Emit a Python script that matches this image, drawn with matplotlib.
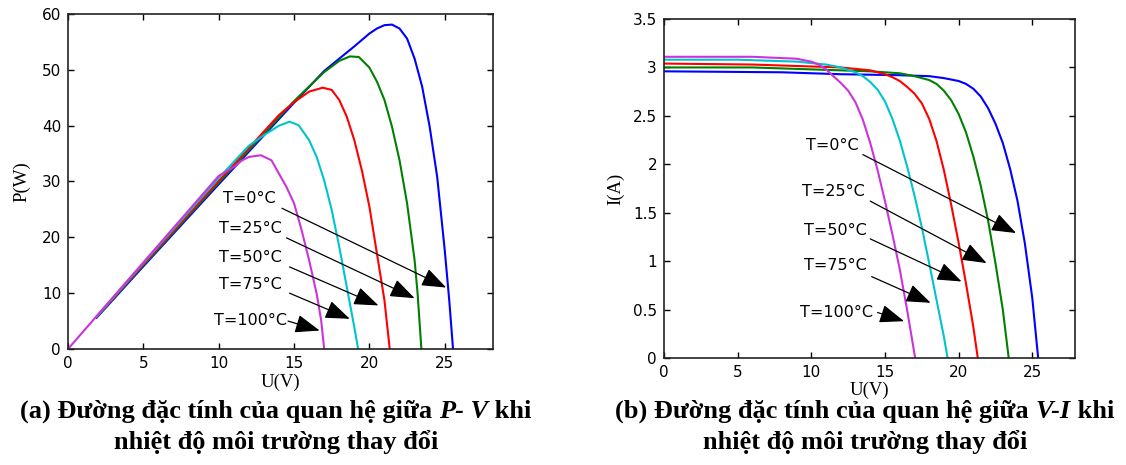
import matplotlib
matplotlib.use("Agg")
import matplotlib.pyplot as plt

# Data
############################################################################
labels = ["T=0°C", "T=25°C", "T=50°C", "T=75°C", "T=100°C"]
colors = ["#0000ff", "#008000", "#ff0000", "#00c4cc", "#cc33dd"]

# P-V curves
u_p_t0 = [1.9, 5, 10, 15, 17, 19, 20, 20.5, 21, 21.5, 22, 22.5, 23, 23.5, 24, 24.5, 25, 25.3, 25.55]
p_t0 = [5.6, 14.8, 29.5, 44.1, 49.8, 54.2, 56.5, 57.4, 58.0, 58.1, 57.4, 55.6, 52.0, 47.0, 39.8, 30.8, 17.7, 8.7, 0.0]
u_p_t25 = [1.9, 5, 10, 15, 17, 18, 18.7, 19.3, 20, 20.5, 21, 21.5, 22, 22.5, 23, 23.2, 23.45]
p_t25 = [5.7, 15.0, 29.8, 44.4, 49.6, 51.6, 52.4, 52.3, 50.4, 47.9, 44.6, 39.8, 33.8, 26.1, 15.9, 9.9, 0.0]
u_p_t50 = [1.9, 5, 10, 14, 15, 16, 16.9, 17.5, 18, 18.5, 19, 19.5, 20, 20.5, 21, 21.35]
p_t50 = [5.8, 15.2, 30.1, 41.9, 44.2, 46.1, 46.8, 46.4, 44.6, 41.6, 37.4, 32.0, 25.5, 17.1, 8.7, 0.0]
u_p_t75 = [1.9, 5, 10, 12, 13, 14, 14.7, 15.3, 16, 16.5, 17, 17.5, 18, 18.5, 19, 19.25]
p_t75 = [5.8, 15.4, 30.6, 36.4, 38.3, 40.0, 40.7, 40.1, 37.4, 34.4, 30.2, 24.9, 18.3, 11.1, 3.9, 0.0]
u_p_t100 = [0, 5, 10, 11, 11.5, 12, 12.8, 13.5, 14, 14.5, 15, 15.5, 16, 16.5, 16.8, 17.0]
p_t100 = [0, 15.5, 31.0, 32.6, 33.7, 34.4, 34.7, 33.8, 31.4, 29.0, 26.1, 21.3, 15.9, 9.9, 5.1, 0.0]

# V-I curves
u_i_t0 = [0, 8, 12, 16, 18, 19, 20, 20.5, 21, 21.5, 22, 22.5, 23, 23.5, 24, 24.5, 25, 25.4]
i_t0 = [2.96, 2.95, 2.93, 2.92, 2.91, 2.89, 2.86, 2.83, 2.78, 2.70, 2.58, 2.42, 2.22, 1.95, 1.62, 1.18, 0.62, 0.0]
u_i_t25 = [0, 6, 10, 14, 16, 17, 18, 18.5, 19, 19.5, 20, 20.5, 21, 21.5, 22, 22.5, 23, 23.4]
i_t25 = [3.00, 3.00, 2.98, 2.96, 2.94, 2.91, 2.87, 2.83, 2.76, 2.66, 2.52, 2.33, 2.08, 1.78, 1.42, 0.98, 0.5, 0.0]
u_i_t50 = [0, 6, 10, 12, 14, 15, 15.5, 16, 16.5, 17, 17.5, 18, 18.5, 19, 19.5, 20, 20.5, 21, 21.3]
i_t50 = [3.04, 3.03, 3.01, 3.0, 2.97, 2.93, 2.9, 2.86, 2.8, 2.73, 2.63, 2.47, 2.24, 1.94, 1.58, 1.19, 0.77, 0.32, 0.0]
u_i_t75 = [0, 5, 9, 11, 12, 13, 13.5, 14, 14.5, 15, 15.5, 16, 16.5, 17, 17.5, 18, 18.5, 19, 19.25]
i_t75 = [3.08, 3.08, 3.06, 3.03, 3.0, 2.95, 2.91, 2.85, 2.77, 2.65, 2.47, 2.25, 1.98, 1.68, 1.35, 0.98, 0.6, 0.22, 0.0]
u_i_t100 = [0, 6, 9, 10, 10.5, 11, 11.5, 12, 12.5, 13, 13.5, 14, 14.5, 15, 15.5, 16, 16.5, 17.05]
i_t100 = [3.11, 3.11, 3.09, 3.06, 3.03, 2.98, 2.91, 2.84, 2.76, 2.64, 2.46, 2.22, 1.94, 1.62, 1.28, 0.92, 0.5, 0.0]

# Annotation positions (label, arrow tail, arrow head) in data units
pv_text = [(12.0, 27.0), (12.1, 21.6), (12.1, 16.3), (12.1, 11.5), (12.1, 5.1)]
pv_tail = [(14.2, 25.2), (14.5, 19.9), (14.7, 14.7), (14.7, 10.0), (14.6, 5.0)]
pv_head = [(25.1, 11.0), (23.0, 9.1), (20.6, 7.8), (18.7, 5.4), (16.7, 3.3)]
iv_text = [(11.4, 2.19), (11.5, 1.72), (11.6, 1.32), (11.6, 0.95), (11.7, 0.47)]
iv_tail = [(13.5, 2.10), (14.0, 1.62), (14.0, 1.23), (14.1, 0.84), (14.5, 0.47)]
iv_head = [(23.9, 1.29), (21.9, 0.98), (20.2, 0.79), (18.1, 0.57), (16.3, 0.38)]
############################################################################

pv_curves = [(u_p_t0, p_t0), (u_p_t25, p_t25), (u_p_t50, p_t50), (u_p_t75, p_t75), (u_p_t100, p_t100)]
iv_curves = [(u_i_t0, i_t0), (u_i_t25, i_t25), (u_i_t50, i_t50), (u_i_t75, i_t75), (u_i_t100, i_t100)]

fig = plt.figure(figsize=(11.26, 4.65), dpi=100)
ax1 = fig.add_axes([0.0604, 0.2495, 0.3774, 0.7204])
ax2 = fig.add_axes([0.5897, 0.2301, 0.3650, 0.7290])


def style_axes(ax):
    ax.tick_params(direction="in", top=True, right=True, length=4, width=1,
                   labelsize=11, pad=5)
    for lab in ax.get_xticklabels() + ax.get_yticklabels():
        lab.set_family("DejaVu Sans")
    for sp in ax.spines.values():
        sp.set_linewidth(1.2)
        sp.set_color("#222222")


def annotate(ax, texts, tails, heads):
    for lab, t, a, b in zip(labels, texts, tails, heads):
        ax.text(t[0], t[1], lab, ha="center", va="center", fontsize=11.5,
                family="DejaVu Sans")
        ax.annotate("", xy=b, xytext=a,
                    arrowprops=dict(arrowstyle="-|>,head_length=0.8,head_width=0.3",
                                    color="black", lw=0.9, mutation_scale=19,
                                    shrinkA=0, shrinkB=0))


# Grafica P-V
for (u, p), c in zip(pv_curves, colors):
    ax1.plot(u, p, color=c, lw=1.5)
ax1.set_xlim(0, 28.2)
ax1.set_ylim(0, 60)
ax1.set_xticks([0, 5, 10, 15, 20, 25])
ax1.set_yticks([0, 10, 20, 30, 40, 50, 60])
style_axes(ax1)
ax1.set_xlabel("U(V)", family="Liberation Serif", fontsize=13.5, labelpad=2)
ax1.set_ylabel("P(W)", family="Liberation Serif", fontsize=13.5, labelpad=8)
annotate(ax1, pv_text, pv_tail, pv_head)

# Grafica V-I
for (u, i), c in zip(iv_curves, colors):
    ax2.plot(u, i, color=c, lw=1.5)
ax2.set_xlim(0, 27.9)
ax2.set_ylim(0, 3.5)
ax2.set_xticks([0, 5, 10, 15, 20, 25])
ax2.set_yticks([0, 0.5, 1, 1.5, 2, 2.5, 3, 3.5])
ax2.set_yticklabels(["0", "0.5", "1", "1.5", "2", "2.5", "3", "3.5"])
style_axes(ax2)
ax2.set_xlabel("U(V)", family="Liberation Serif", fontsize=13.5, labelpad=1)
ax2.set_ylabel("I(A)", family="Liberation Serif", fontsize=13.5, labelpad=6)
annotate(ax2, iv_text, iv_tail, iv_head)


# Captions (bold serif, with the bold italic part)
def caption_line(parts, xc, yc, size=19):
    renderer = fig.canvas.get_renderer()
    objs = []
    for s, italic in parts:
        t = fig.text(0, yc, s, fontsize=size, family="Liberation Serif",
                     weight="bold", style="italic" if italic else "normal",
                     va="center", ha="left")
        objs.append(t)
    widths = [o.get_window_extent(renderer).width / fig.bbox.width for o in objs]
    x = xc - sum(widths) / 2
    for o, w in zip(objs, widths):
        o.set_x(x)
        x += w


caption_line([("(a) Đường đặc tính của quan hệ giữa ", False), ("P- V", True),
              (" khi", False)], 0.245, 1 - 411 / 465)
caption_line([("nhiệt độ môi trường thay đổi", False)], 0.245, 1 - 442 / 465)
caption_line([("(b) Đường đặc tính của quan hệ giữa ", False), ("V-I", True),
              (" khi", False)], 0.768, 1 - 411 / 465)
caption_line([("nhiệt độ môi trường thay đổi", False)], 0.768, 1 - 442 / 465)

fig.savefig("out.png", dpi=100)
